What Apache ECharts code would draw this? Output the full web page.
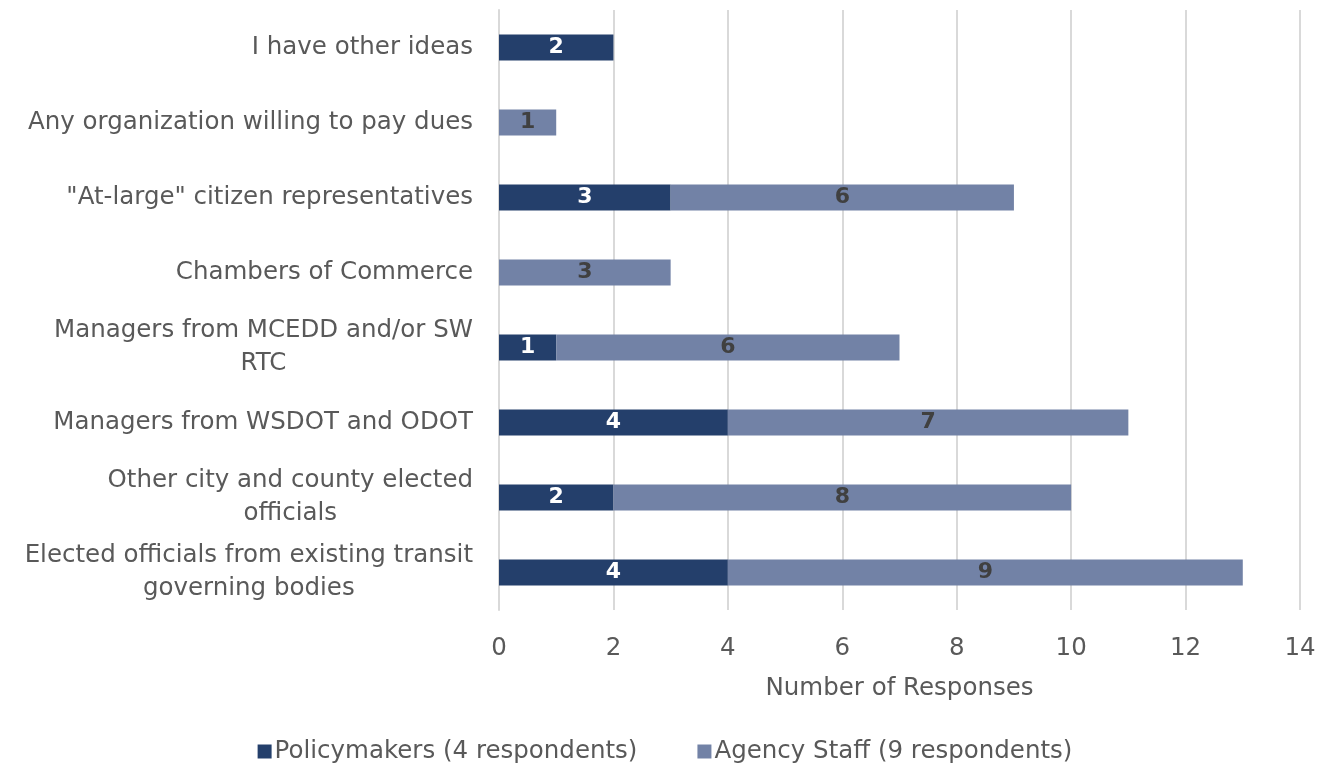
<!DOCTYPE html>
<html><head><meta charset="utf-8">
<script src="https://cdn.jsdelivr.net/npm/echarts@6/dist/echarts.min.js"></script>
<style>html,body{margin:0;padding:0;background:#fff}#c{width:1330px;height:766px}</style>
</head><body><div id="c"></div>
<script>
const categories = [
  "Elected officials from existing transit\ngoverning bodies",
  "Other city and county elected\nofficials",
  "Managers from WSDOT and ODOT",
  "Managers from MCEDD and/or SW\nRTC",
  "Chambers of Commerce",
  "\"At-large\" citizen representatives",
  "Any organization willing to pay dues",
  "I have other ideas"
];
const policymakers = [4, 2, 4, 1, null, 3, null, 2];
const agencyStaff = [9, 8, 7, 6, 3, 6, 1, null];
const seriesNames = ["Policymakers (4 respondents)", "Agency Staff (9 respondents)"];
const xTicks = [0, 14, 2];

const FONT = "DejaVu Sans";
const FS = 24.5;
const chart = echarts.init(document.getElementById('c'));
chart.setOption({
  animation: false,
  textStyle: {fontFamily: FONT},
  grid: {left: 499, right: 30, top: 10, bottom: 156, containLabel: false},
  legend: {
    bottom: -3, left: 'center', itemWidth: 14, itemHeight: 14, itemGap: 60,
    icon: 'rect',
    textStyle: {fontSize: FS, color: '#595959', fontFamily: FONT, padding: [0,0,0,-2]},
    data: seriesNames
  },
  xAxis: {
    type: 'value', min: xTicks[0], max: xTicks[1], interval: xTicks[2],
    name: 'Number of Responses', nameLocation: 'middle', nameGap: 66,
    nameTextStyle: {fontSize: FS, color: '#595959'},
    axisLine: {show: false}, axisTick: {show: false},
    axisLabel: {fontSize: FS, color: '#595959', margin: 26},
    splitLine: {lineStyle: {color: '#d9d9d9', width: 2}}
  },
  yAxis: {
    type: 'category', data: categories,
    axisLine: {show: true, lineStyle: {color: '#d9d9d9', width: 2}},
    axisTick: {show: false},
    axisLabel: {
      margin: 26, fontSize: FS, color: '#595959', lineHeight: 33,
      formatter: v => v.split('\n').map(s => '{c|' + s + '}').join('\n'),
      rich: {c: {fontSize: FS, color: '#595959', align: 'center', lineHeight: 33, fontFamily: FONT}}
    }
  },
  series: [
    {
      name: seriesNames[0], type: 'bar', stack: 's', data: policymakers, barWidth: 26,
      itemStyle: {color: '#243F6B'},
      label: {show: true, position: 'inside', color: '#ffffff', fontWeight: 'bold', fontSize: 22}
    },
    {
      name: seriesNames[1], type: 'bar', stack: 's', data: agencyStaff, barWidth: 26,
      itemStyle: {color: '#7282A6'},
      label: {show: true, position: 'inside', color: '#404040', fontWeight: 'bold', fontSize: 22}
    }
  ]
});
</script></body></html>
